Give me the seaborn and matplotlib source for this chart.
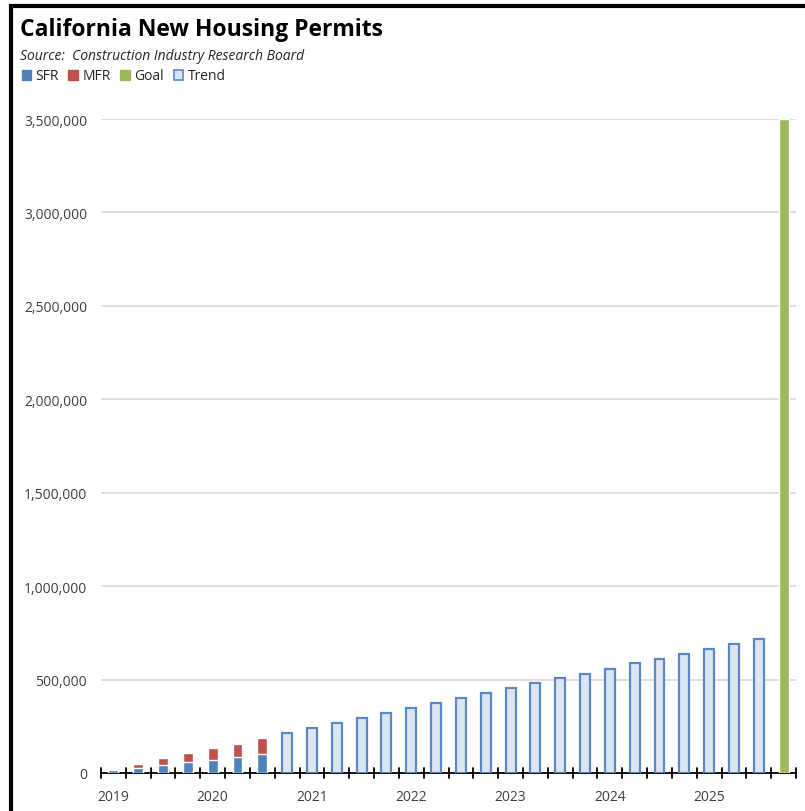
import numpy as np
import pandas as pd
import matplotlib
matplotlib.use("Agg")
import matplotlib.pyplot as plt
import matplotlib.transforms as mtransforms
from matplotlib.patches import Rectangle, Patch
import seaborn as sns

# Quarterly categories: 2019Q1 .. 2025Q4
years = [2019, 2020, 2021, 2022, 2023, 2024, 2025]
quarters = [f"{y}Q{q}" for y in years for q in range(1, 5)]

# Cumulative permits since 2019 (actuals)
sfr = [14000, 27000, 41000, 59000, 71000, 86000, 103000]
mfr = [9000, 23000, 41000, 50000, 64000, 71000, 82000]

# Trend projection of cumulative permits
trend = [212000, 241000, 267000, 294000, 321000, 348000, 375000, 401000,
         430000, 455000, 483000, 508000, 531000, 558000, 587000, 612000,
         638000, 665000, 692000, 719000]

goal = 3500000

n_act = len(sfr)
n_tr = len(trend)
total = [s + m for s, m in zip(sfr, mfr)]

df_act = pd.DataFrame({"quarter": quarters[:n_act], "sfr": sfr, "total": total})
df_tr = pd.DataFrame({"quarter": quarters[n_act:n_act + n_tr], "trend": trend})
df_goal = pd.DataFrame({"quarter": [quarters[n_act + n_tr]], "goal": [goal]})

C_SFR = "#4F81BD"
C_MFR = "#C0504D"
C_GOAL = "#9BBB59"
C_TREND = "#DCE6F2"
C_TREND_EDGE = "#5A8AC6"

sns.set_theme(style="white")
plt.rcParams["font.family"] = ["Open Sans", "DejaVu Sans"]

fig = plt.figure(figsize=(8.05, 8.12), dpi=100)
ax = fig.add_axes([101 / 805, 38 / 812, 695 / 805, 654 / 812])

bw = 0.4
sns.barplot(data=df_act, x="quarter", y="total", order=quarters, color=C_MFR,
            width=bw, saturation=1, ax=ax, zorder=3)
sns.barplot(data=df_act, x="quarter", y="sfr", order=quarters, color=C_SFR,
            width=bw, saturation=1, ax=ax, zorder=4)
sns.barplot(data=df_tr, x="quarter", y="trend", order=quarters, color=C_TREND,
            edgecolor=C_TREND_EDGE, linewidth=1.6, width=bw, saturation=1,
            ax=ax, zorder=3)
sns.barplot(data=df_goal, x="quarter", y="goal", order=quarters, color=C_GOAL,
            width=bw, saturation=1, ax=ax, zorder=3)

ax.set_xlim(-0.5, len(quarters) - 0.5)
ax.set_ylim(0, 3500000)
ax.set_xlabel("")
ax.set_ylabel("")

# y axis
yt = np.arange(0, 3500001, 500000)
ax.set_yticks(yt)
ax.set_yticklabels([f"{v:,.0f}" for v in yt], fontsize=10, color="#404040")
ax.tick_params(axis="y", length=0, pad=10)
for v in yt[1:]:
    ax.axhline(v, color="#D9D9D9", lw=1.2, zorder=1)

for s in ["top", "right", "left"]:
    ax.spines[s].set_visible(False)
ax.spines["bottom"].set_color("black")
ax.spines["bottom"].set_linewidth(1.3)
ax.spines["bottom"].set_zorder(2)

# crossing tick marks between quarters
ax.set_xticks([])
trans = mtransforms.blended_transform_factory(ax.transData, ax.transAxes)
tick_len = 5 / 654
for b in np.arange(-0.5, len(quarters), 1.0):
    ax.plot([b, b], [-tick_len, tick_len], color="black", lw=1.3,
            transform=trans, clip_on=False, zorder=5)

# year labels
for i, y in enumerate(years):
    ax.text(i * 4, -24 / 654, str(y), transform=trans, ha="center",
            va="center", fontsize=10, color="#404040")

# title, source and legend
fig.text(20 / 805, 1 - 30 / 812, "California New Housing Permits",
         fontsize=16.5, fontweight="bold", color="black", va="center")
fig.text(20 / 805, 1 - 56 / 812, "Source:  Construction Industry Research Board",
         fontsize=10, style="italic", color="#262626", va="center")

handles = [Patch(facecolor=C_SFR, edgecolor=C_SFR),
           Patch(facecolor=C_MFR, edgecolor=C_MFR),
           Patch(facecolor=C_GOAL, edgecolor=C_GOAL),
           Patch(facecolor=C_TREND, edgecolor=C_TREND_EDGE, linewidth=1.2)]
fig.legend(handles, ["SFR", "MFR", "Goal", "Trend"], loc="center left",
           bbox_to_anchor=(9 / 805, 1 - 77 / 812), ncol=4, frameon=False,
           fontsize=10, handlelength=0.7, handleheight=0.7, handletextpad=0.3,
           columnspacing=0.7, labelcolor="#262626")

# outer frame
fig.patches.append(Rectangle((11 / 805, -0.1), 1.2, 1 - 6.5 / 812 + 0.1,
                             transform=fig.transFigure, fill=False,
                             edgecolor="black", lw=3))

fig.savefig("out.png", dpi=100)
